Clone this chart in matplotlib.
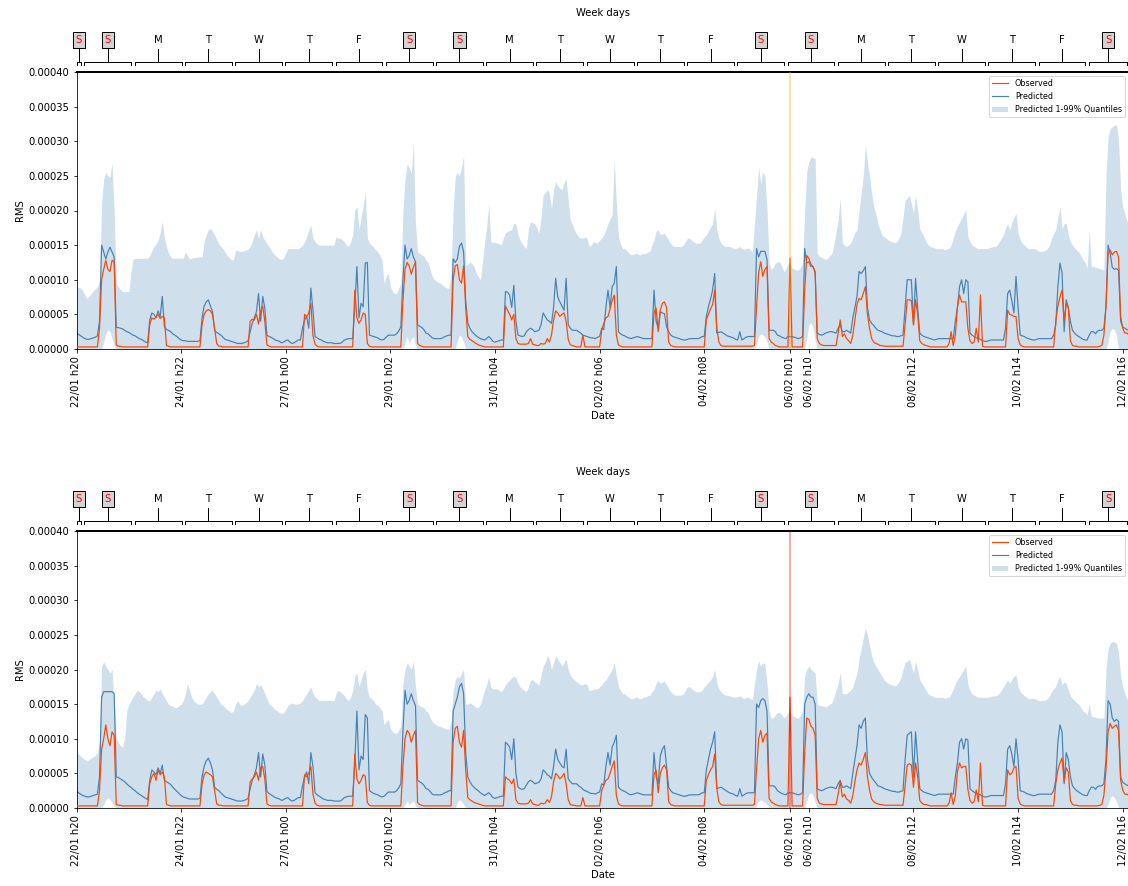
import numpy as np
import pandas as pd
import matplotlib
matplotlib.use("Agg")
import matplotlib.pyplot as plt

# hourly series, in units of 1e-6 RMS, starting 22/01 h20 (one row = 24 hours)
start = pd.Timestamp("2022-01-22 20:00")
first_midnight = 3  # first day boundary (hours after start)
anomaly_hour = 341  # 06/02 h01

# ---- top panel ----
obs_a = [
    3,3,3,3,3,3,3,3,3,3,3,30,100,115,128,115,112,128,126,6,4,4,3,3,
    3,3,3,3,3,3,3,3,3,3,3,35,45,43,46,50,44,47,45,5,4,3,3,3,
    3,3,3,3,3,3,3,3,3,3,3,3,35,50,55,57,55,50,30,8,4,4,3,3,
    3,3,3,3,3,3,3,3,3,3,3,40,43,42,50,36,55,62,40,6,4,3,3,3,
    3,3,3,3,3,3,3,3,3,3,3,3,3,50,47,52,66,20,7,4,3,3,3,3,
    3,3,3,3,3,3,3,3,3,3,3,3,3,85,45,37,42,52,50,8,4,3,3,3,
    3,3,3,3,3,3,3,3,3,3,3,3,70,115,125,120,108,118,126,8,5,4,3,3,
    3,3,3,3,3,3,3,3,3,3,3,3,100,120,122,100,95,120,60,18,14,12,10,8,
    6,5,4,3,3,3,3,3,3,3,3,3,3,62,56,50,42,50,15,8,7,7,7,7,
    8,15,7,6,5,5,8,7,8,15,10,20,42,55,52,47,50,52,40,14,6,5,4,3,
    3,3,20,3,3,3,3,3,3,3,3,27,37,45,47,58,70,78,20,6,4,3,3,3,
    3,3,3,3,3,3,3,3,3,3,3,3,52,59,25,56,66,68,60,10,5,4,3,3,
    3,3,3,3,3,3,3,3,3,3,3,3,3,42,50,58,64,85,30,10,5,4,4,4,
    4,4,4,4,4,4,4,4,4,4,4,4,5,61,110,126,105,115,119,15,10,8,5,4,
    3,3,3,3,3,131,3,3,3,3,3,3,85,135,131,122,119,110,15,8,6,5,5,5,
    5,5,5,5,23,42,18,22,15,12,8,20,42,64,73,71,80,90,50,30,15,10,8,7,
    5,5,4,4,4,4,4,4,4,4,4,4,35,71,71,70,35,71,50,12,8,6,5,4,
    3,3,3,3,3,3,3,3,3,8,25,5,20,60,78,68,68,68,30,12,8,10,30,10,
    78,4,3,3,3,3,3,3,3,3,3,3,3,56,50,49,47,47,15,6,4,3,3,3,
    3,3,3,3,3,3,3,3,3,3,3,3,40,62,75,85,42,66,59,12,5,4,4,3,
    3,3,3,3,3,3,3,3,3,4,5,20,61,138,143,136,140,141,133,47,30,23,23,20,
]

pred_a = [
    23,21,19,17,15,14,14,15,16,17,19,40,150,140,130,140,147,140,133,31,31,30,29,27,
    25,24,22,20,19,17,15,14,12,10,9,42,52,50,45,55,47,76,32,28,27,25,22,20,
    18,15,13,12,12,11,11,11,11,11,11,12,45,62,68,71,62,54,27,24,22,20,17,14,
    13,12,11,10,9,8,8,8,9,10,12,25,37,45,54,80,40,76,59,20,18,17,15,13,
    12,11,9,10,12,13,10,8,9,11,13,13,30,42,47,30,88,56,18,16,14,13,11,10,
    9,9,9,8,8,8,8,10,13,14,15,15,15,60,119,45,66,61,124,125,20,19,18,17,
    16,14,13,14,17,20,20,20,20,22,26,32,100,150,130,135,145,133,126,35,33,31,28,23,
    22,19,16,15,15,15,15,16,18,19,20,20,130,125,130,148,153,140,70,38,30,25,22,19,
    17,15,14,13,15,18,15,11,10,11,12,13,13,83,82,78,60,92,40,20,19,18,19,25,
    28,30,28,25,26,27,35,52,47,42,40,37,60,102,75,68,62,56,102,35,30,27,27,27,
    25,23,20,19,18,17,16,16,15,17,18,30,28,60,85,60,90,95,119,25,22,20,19,17,
    16,15,16,17,18,17,16,15,15,15,15,15,85,40,30,54,52,51,32,25,20,18,17,16,
    15,14,13,13,14,15,15,15,15,15,16,18,18,47,61,72,85,109,23,24,25,23,21,19,
    18,17,16,14,13,25,13,15,17,18,18,18,18,145,133,141,141,141,129,27,27,27,25,20,
    19,17,16,15,18,18,18,17,16,15,16,18,145,124,126,119,119,112,23,21,20,21,23,24,
    25,25,24,23,30,35,25,25,27,25,23,45,60,76,112,109,113,119,60,42,37,34,30,27,
    26,25,23,22,21,20,19,19,18,18,19,20,61,100,100,100,35,102,60,23,20,18,17,16,
    15,14,13,14,15,15,15,15,15,15,15,15,40,60,90,100,80,100,97,23,20,18,16,15,
    14,12,11,11,12,13,13,13,13,13,13,13,30,80,85,70,52,105,60,20,19,18,16,15,
    14,13,13,14,15,15,15,15,15,15,15,20,35,90,124,110,25,71,60,40,27,23,20,18,
    16,14,13,13,20,25,25,22,26,27,27,30,61,150,138,118,115,116,114,40,32,30,28,27,
]

up_a = [
    90,89,88,84,78,73,76,80,84,87,90,100,210,246,255,250,248,268,200,95,90,86,83,83,
    83,83,110,129,131,131,131,131,131,131,131,135,142,148,152,157,168,184,160,148,138,133,131,131,
    131,131,131,131,140,135,130,131,132,132,133,133,133,155,165,172,174,170,165,158,152,148,145,140,
    135,132,129,129,143,142,141,141,142,143,144,148,155,165,172,160,172,162,157,152,148,143,138,135,
    133,130,129,132,138,145,145,145,145,145,145,147,150,155,162,172,179,160,155,152,150,150,150,150,
    150,150,150,150,162,160,160,158,155,150,148,155,165,200,206,172,190,206,228,160,153,150,147,143,
    140,135,129,95,105,109,90,83,80,80,88,95,200,244,268,262,254,297,180,140,138,136,134,128,
    125,115,105,100,98,96,95,92,90,88,88,110,200,249,255,250,262,278,121,122,126,123,119,110,
    105,100,125,153,175,210,155,154,154,153,152,150,160,168,170,171,172,182,180,165,157,152,148,145,
    175,184,182,181,175,167,190,222,226,230,225,203,230,242,236,232,230,240,246,215,186,180,172,166,
    162,160,160,162,160,148,150,155,154,153,157,160,165,172,181,188,194,273,210,162,152,145,145,142,
    138,136,137,138,138,136,137,138,138,140,141,150,157,170,172,165,166,167,162,157,152,149,148,148,
    148,148,150,155,160,160,157,155,153,153,153,157,162,165,170,176,181,203,172,160,153,150,148,148,
    148,147,145,145,146,148,145,144,145,146,143,141,180,220,263,239,256,250,201,124,115,118,124,126,
    126,120,112,115,124,124,117,115,114,114,118,124,200,256,270,278,276,275,138,134,133,131,129,131,
    135,138,150,170,186,218,153,150,148,150,153,160,168,172,200,225,250,295,270,249,225,206,195,181,
    172,165,162,160,157,156,155,153,155,160,167,190,215,218,222,210,196,222,200,174,168,162,155,150,
    148,147,146,145,145,145,145,143,145,145,150,160,170,177,183,189,195,201,162,155,150,148,146,145,
    145,145,145,145,146,147,148,148,150,155,160,165,175,181,172,182,190,196,167,158,153,150,147,145,
    145,145,145,143,141,141,141,143,145,150,160,167,172,190,206,174,181,181,165,155,150,146,143,140,
    135,129,125,117,172,119,119,118,117,116,115,114,250,307,318,321,323,324,302,230,205,195,185,178,
]

low_a = [
    0,0,0,0,0,0,0,0,0,0,0,0,0,10,22,28,25,15,5,0,0,0,0,0,
    0,0,0,0,0,0,0,0,0,0,0,0,0,0,0,0,0,0,0,0,0,0,0,0,
    0,0,0,0,0,0,0,0,0,0,0,0,0,0,0,0,0,0,0,0,0,0,0,0,
    0,0,0,0,0,0,0,0,0,0,0,0,0,0,0,0,0,0,0,0,0,0,0,0,
    0,0,0,0,0,0,0,0,0,0,0,0,0,0,0,0,0,0,0,0,0,0,0,0,
    0,0,0,0,0,0,0,0,0,0,0,0,0,0,0,0,0,0,0,0,0,0,0,0,
    0,0,0,0,0,0,0,0,0,0,0,0,0,10,18,8,15,18,5,0,0,0,0,0,
    0,0,0,0,0,0,0,0,0,0,0,0,0,0,12,20,18,10,0,0,0,0,0,0,
    0,0,0,0,0,0,0,0,0,0,0,0,0,0,0,0,0,0,0,0,0,0,0,0,
    0,0,0,0,0,0,0,0,0,0,0,0,0,0,0,0,0,0,0,0,0,0,0,0,
    0,0,0,0,0,0,0,0,0,0,0,0,0,0,0,0,0,0,0,0,0,0,0,0,
    0,0,0,0,0,0,0,0,0,0,0,0,0,0,0,0,0,0,0,0,0,0,0,0,
    0,0,0,0,0,0,0,0,0,0,0,0,0,0,0,0,0,0,0,0,0,0,0,0,
    0,0,0,0,0,0,0,0,0,0,0,0,0,8,18,22,20,18,10,0,0,0,0,0,
    0,0,0,0,0,0,0,0,0,0,0,0,0,15,35,38,30,12,0,0,0,0,0,0,
    0,0,0,0,0,0,0,0,0,0,0,0,0,0,0,0,0,0,0,0,0,0,0,0,
    0,0,0,0,0,0,0,0,0,0,0,0,0,0,0,0,0,0,0,0,0,0,0,0,
    0,0,0,0,0,0,0,0,0,0,0,0,0,0,0,0,0,0,0,0,0,0,0,0,
    0,0,0,0,0,0,0,0,0,0,0,0,0,0,0,0,0,0,0,0,0,0,0,0,
    0,0,0,0,0,0,0,0,0,0,0,0,0,0,0,0,0,0,0,0,0,0,0,0,
    0,0,0,0,0,0,0,0,0,0,0,0,0,10,25,30,28,20,0,0,0,0,0,0,
]

# ---- bottom panel ----
obs_b = [
    3,3,3,3,3,3,3,3,3,3,3,25,85,100,120,100,90,110,105,5,4,4,3,3,
    3,3,3,3,3,3,3,3,3,3,3,35,45,50,40,55,48,52,45,5,4,3,3,3,
    3,3,3,3,3,3,3,3,3,3,3,3,35,48,52,50,48,45,25,6,4,4,3,3,
    3,3,3,3,3,3,3,3,3,3,3,38,42,45,52,40,58,60,42,6,4,3,3,3,
    3,3,3,3,3,3,3,3,3,3,3,3,3,48,45,50,60,20,7,4,3,3,3,3,
    3,3,3,3,3,3,3,3,3,3,3,3,3,78,42,35,40,48,46,8,4,3,3,3,
    3,3,3,3,3,3,3,3,3,3,3,3,60,100,112,108,95,105,112,8,5,4,3,3,
    3,3,3,3,3,3,3,3,3,3,3,3,95,115,118,95,88,112,55,15,12,10,8,7,
    6,5,4,3,3,3,3,3,3,3,3,3,3,45,42,40,35,42,12,7,6,6,6,6,
    7,12,6,5,4,4,7,6,7,12,8,16,38,50,47,42,45,50,35,12,5,4,4,3,
    3,3,15,3,3,3,3,3,3,3,3,25,33,40,42,50,60,68,18,6,4,3,3,3,
    3,3,3,3,3,3,3,3,3,3,3,3,48,55,22,50,58,62,55,9,5,4,3,3,
    3,3,3,3,3,3,3,3,3,3,3,3,3,40,48,55,60,78,28,9,5,4,4,4,
    4,4,4,4,4,4,4,4,4,4,4,4,5,55,100,112,95,105,108,14,9,7,5,4,
    3,3,3,3,3,160,3,3,3,3,3,3,80,130,128,118,115,105,14,7,6,5,5,5,
    5,5,5,5,20,38,16,20,13,11,7,18,38,55,65,62,70,80,45,26,13,9,7,6,
    5,5,4,4,4,4,4,4,4,4,4,4,32,62,64,62,30,65,45,11,7,5,5,4,
    3,3,3,3,3,3,3,3,3,7,22,5,18,52,65,58,60,60,27,11,7,9,26,9,
    65,4,3,3,3,3,3,3,3,3,3,3,3,55,48,50,58,60,14,6,4,3,3,3,
    3,3,3,3,3,3,3,3,3,3,3,3,35,55,65,72,38,58,52,11,5,4,4,3,
    3,3,3,3,3,3,3,3,3,4,5,18,55,110,122,115,118,120,112,40,26,20,20,18,
]

pred_b = [
    25,22,20,18,17,16,16,17,18,19,20,45,160,168,168,168,168,168,165,45,44,42,40,38,
    35,32,30,27,25,22,20,18,16,14,12,40,55,52,48,58,50,62,40,38,36,34,30,27,
    24,21,18,16,15,14,13,13,13,13,13,14,45,60,68,72,65,55,30,27,25,22,19,16,
    15,14,13,12,11,10,10,10,11,12,14,28,40,48,58,80,45,78,62,24,21,19,17,15,
    14,13,11,12,14,15,12,10,11,13,15,15,32,45,52,35,80,60,22,19,17,15,13,12,
    11,11,11,10,10,10,10,12,15,16,17,17,17,65,140,55,75,70,135,130,25,23,21,20,
    19,17,16,17,20,23,23,23,23,25,29,35,110,170,150,155,165,155,148,40,38,36,33,28,
    27,24,20,19,19,19,19,20,22,23,25,25,140,150,160,175,180,165,80,45,38,33,30,27,
    25,22,20,18,20,22,19,15,14,15,16,17,17,95,92,88,70,100,50,30,28,27,28,33,
    38,40,38,35,36,37,42,55,52,48,46,42,60,85,70,65,60,58,85,42,38,35,35,35,
    32,30,27,25,24,22,21,21,20,22,23,35,33,60,80,62,88,95,105,30,27,25,24,22,
    20,19,20,21,22,21,20,19,19,19,19,19,80,45,35,75,85,90,60,30,25,22,21,20,
    19,18,17,17,18,19,19,19,19,19,20,22,22,55,70,85,95,110,28,29,30,28,26,24,
    22,21,20,18,17,28,17,19,21,22,22,22,22,150,145,155,158,155,140,32,32,32,30,25,
    23,21,20,19,22,22,22,21,20,19,20,22,150,160,165,160,160,150,28,26,25,26,28,29,
    30,30,29,28,35,40,30,30,32,30,28,50,70,90,120,115,125,130,70,50,44,40,36,32,
    31,30,28,27,26,25,24,24,23,23,24,25,70,105,108,110,45,110,70,28,25,23,22,21,
    20,19,18,19,20,20,20,20,20,20,20,20,45,65,95,100,85,100,98,28,25,23,21,20,
    19,17,16,16,17,18,18,18,18,18,18,18,35,85,90,78,60,100,70,25,24,23,21,20,
    19,18,18,19,20,20,20,20,20,20,20,25,40,95,120,110,35,80,70,45,32,28,25,23,
    21,19,18,18,25,30,30,27,31,32,32,35,70,155,150,130,125,128,125,45,37,35,33,32,
]

up_b = [
    80,78,75,72,70,68,70,72,74,76,80,95,205,211,205,200,195,200,150,100,95,90,88,100,
    140,150,155,160,165,170,168,165,160,158,155,155,160,165,170,168,172,165,160,155,150,148,147,145,
    145,148,150,155,165,180,170,160,155,152,150,150,150,155,160,165,168,170,165,160,155,150,148,145,
    142,140,138,140,150,155,150,148,150,152,155,160,165,170,180,175,178,172,165,158,150,148,145,142,
    140,138,136,138,142,148,150,152,150,150,150,152,155,160,165,170,175,165,160,158,155,155,155,155,
    155,155,155,155,165,170,168,165,162,158,155,160,170,190,195,175,185,195,200,170,160,158,155,150,
    148,145,140,120,125,128,115,110,108,108,112,118,180,200,210,205,200,212,175,150,148,146,145,140,
    138,130,125,122,120,118,118,116,115,114,114,125,170,185,190,188,195,200,150,150,152,150,148,145,
    145,150,160,170,178,190,175,172,172,172,170,168,172,178,182,185,188,190,188,180,175,172,170,168,
    175,185,185,182,180,178,190,205,210,220,215,200,210,220,215,210,205,210,215,200,192,188,185,182,
    180,178,178,180,178,170,170,172,172,172,175,178,182,185,190,195,200,210,190,175,170,165,165,162,
    160,158,158,160,160,158,158,160,160,162,163,168,172,180,185,180,182,183,178,172,168,165,163,163,
    163,163,165,170,175,175,172,170,168,168,168,170,175,178,182,185,190,200,180,172,168,165,163,163,
    162,161,160,160,161,162,160,158,160,160,158,156,180,200,212,205,210,208,180,140,130,130,135,138,
    138,135,130,132,138,138,134,132,130,130,134,140,190,200,205,200,198,195,150,148,148,147,146,148,
    150,152,160,170,180,195,165,165,165,168,170,175,185,195,215,230,245,260,250,235,220,210,205,200,
    195,190,185,182,180,178,178,176,178,182,188,200,210,212,215,205,195,212,200,185,180,175,170,165,
    163,162,160,160,160,160,160,158,160,160,165,172,180,185,190,195,200,205,178,170,165,163,161,160,
    160,160,160,160,160,161,162,162,163,166,170,175,180,185,180,186,190,192,175,168,165,162,160,158,
    158,158,158,156,155,155,155,156,158,162,168,172,176,185,190,178,182,180,170,162,158,155,152,150,
    145,140,138,135,150,132,132,131,130,130,130,130,200,230,238,240,240,238,225,190,175,165,158,150,
]

low_b = [
    0,0,0,0,0,0,0,0,0,0,0,0,0,5,12,15,12,8,3,0,0,0,0,0,
    0,0,0,0,0,0,0,0,0,0,0,0,0,0,0,0,0,0,0,0,0,0,0,0,
    0,0,0,0,0,0,0,0,0,0,0,0,0,0,0,0,0,0,0,0,0,0,0,0,
    0,0,0,0,0,0,0,0,0,0,0,0,0,0,0,0,0,0,0,0,0,0,0,0,
    0,0,0,0,0,0,0,0,0,0,0,0,0,0,0,0,0,0,0,0,0,0,0,0,
    0,0,0,0,0,0,0,0,0,0,0,0,0,0,0,0,0,0,0,0,0,0,0,0,
    0,0,0,0,0,0,0,0,0,0,0,0,0,5,10,5,8,10,3,0,0,0,0,0,
    0,0,0,0,0,0,0,0,0,0,0,0,0,0,8,12,10,5,0,0,0,0,0,0,
    0,0,0,0,0,0,0,0,0,0,0,0,0,0,0,0,0,0,0,0,0,0,0,0,
    0,0,0,0,0,0,0,0,0,0,0,0,0,0,0,0,0,0,0,0,0,0,0,0,
    0,0,0,0,0,0,0,0,0,0,0,0,0,0,0,0,0,0,0,0,0,0,0,0,
    0,0,0,0,0,0,0,0,0,0,0,0,0,0,0,0,0,0,0,0,0,0,0,0,
    0,0,0,0,0,0,0,0,0,0,0,0,0,0,0,0,0,0,0,0,0,0,0,0,
    0,0,0,0,0,0,0,0,0,0,0,0,0,5,10,12,10,8,5,0,0,0,0,0,
    0,0,0,0,0,0,0,0,0,0,0,0,0,10,20,22,18,8,0,0,0,0,0,0,
    0,0,0,0,0,0,0,0,0,0,0,0,0,0,0,0,0,0,0,0,0,0,0,0,
    0,0,0,0,0,0,0,0,0,0,0,0,0,0,0,0,0,0,0,0,0,0,0,0,
    0,0,0,0,0,0,0,0,0,0,0,0,0,0,0,0,0,0,0,0,0,0,0,0,
    0,0,0,0,0,0,0,0,0,0,0,0,0,0,0,0,0,0,0,0,0,0,0,0,
    0,0,0,0,0,0,0,0,0,0,0,0,0,0,0,0,0,0,0,0,0,0,0,0,
    0,0,0,0,0,0,0,0,0,0,0,0,0,5,15,18,15,10,0,0,0,0,0,0,
]

scale = 1e-6
hours = np.arange(len(obs_a))
t_end = hours[-1]


def week_days(ax):
    tr = ax.get_xaxis_transform()
    edges = [0] + list(range(first_midnight, t_end, 24)) + [t_end]
    for i in range(len(edges) - 1):
        a = edges[i] + (0.8 if i > 0 else 0)
        b = edges[i + 1] - 0.8
        mid = (a + b) / 2
        ax.plot([a, a, b, b], [1.025, 1.035, 1.035, 1.025], color="k", lw=1,
                transform=tr, clip_on=False)
        ax.plot([mid, mid], [1.035, 1.083], color="k", lw=1, transform=tr, clip_on=False)
        day = start + pd.Timedelta(hours=mid)
        letter = "MTWTFSS"[day.weekday()]
        if day.weekday() >= 5:
            ax.text(mid, 1.114, letter, color="red", ha="center", va="center", transform=tr,
                    bbox=dict(boxstyle="square,pad=0.3", fc="lightgrey", ec="k", lw=1))
        else:
            ax.text(mid, 1.114, letter, ha="center", va="center", transform=tr)
    ax.text(0.5, 1.213, "Week days", ha="center", va="center", transform=ax.transAxes)


def panel(ax, obs, pred, up, low, vcolor):
    ax.fill_between(hours, np.array(low) * scale, np.array(up) * scale, color="steelblue",
                    alpha=0.25, lw=0, label="Predicted 1-99% Quantiles", zorder=1)
    ax.plot(hours, np.array(obs) * scale, color="orangered", lw=1.2, label="Observed", zorder=3)
    ax.plot(hours, np.array(pred) * scale, color="steelblue", lw=1.2, label="Predicted", zorder=2)
    ax.axvline(anomaly_hour, color=vcolor, alpha=0.35, lw=2, zorder=4)
    ax.set_xlim(0, t_end)
    ax.set_ylim(0, 0.0004)
    yt = np.arange(0, 0.00041, 0.00005)
    ax.set_yticks(yt)
    ax.set_yticklabels(["%.5f" % v for v in yt])
    ticks = sorted(list(range(0, t_end, 50)) + [anomaly_hour])
    ax.set_xticks(ticks)
    ax.set_xticklabels([(start + pd.Timedelta(hours=int(t))).strftime("%d/%m h%H") for t in ticks],
                       rotation=90)
    ax.set_xlabel("Date")
    ax.set_ylabel("RMS")
    ax.spines["top"].set_linewidth(2)
    h, l = ax.get_legend_handles_labels()
    order = [l.index("Observed"), l.index("Predicted"), l.index("Predicted 1-99% Quantiles")]
    ax.legend([h[i] for i in order], [l[i] for i in order], loc="upper right", fontsize=8)
    week_days(ax)


fig = plt.figure(figsize=(1128 / 72, 886 / 72), dpi=72)
ax1 = fig.add_axes([76.5 / 1128, 1 - 349 / 886, 1052.5 / 1128, 277 / 886])
ax2 = fig.add_axes([76.5 / 1128, 1 - 808 / 886, 1052.5 / 1128, 277 / 886])
panel(ax1, obs_a, pred_a, up_a, low_a, "orange")
panel(ax2, obs_b, pred_b, up_b, low_b, "red")

fig.savefig("out.png", dpi=72)
